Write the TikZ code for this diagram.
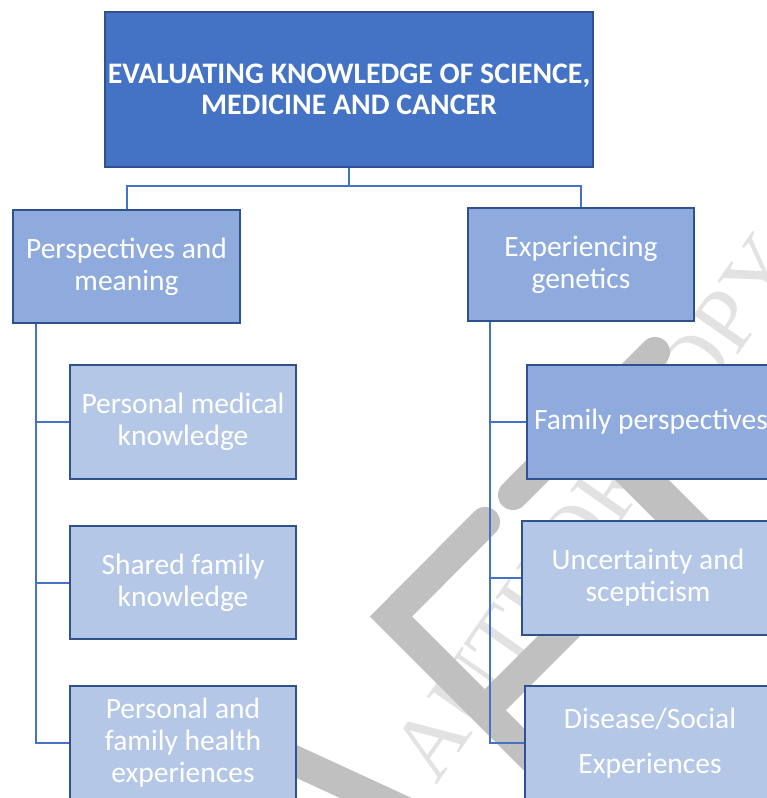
\documentclass[tikz,border=0pt]{standalone}
\usepackage{fontspec}
\setmainfont{Carlito}
\newfontfamily\markfont{Liberation Serif}
\definecolor{topfill}{HTML}{4472C4}
\definecolor{midfill}{HTML}{8FAADC}
\definecolor{lightfill}{HTML}{B4C7E7}
\definecolor{boxedge}{HTML}{2F528F}
\definecolor{linkblue}{HTML}{4472C4}
\definecolor{wmgray}{RGB}{192,192,192}
\definecolor{wmlight}{RGB}{226,226,226}
\begin{document}
\begin{tikzpicture}[x=1pt,y=-1pt,
  box/.style={draw=boxedge, line width=2.4pt, text=white, align=center,
    inner sep=0pt, font=\fontsize{29.5}{32}\selectfont},
  topbox/.style={box, fill=topfill, line width=2pt,
    font=\fontsize{29.8}{31}\selectfont\bfseries},
  midbox/.style={box, fill=midfill},
  leafbox/.style={box, fill=lightfill},
  link/.style={draw=linkblue, line width=2pt},
  wmstroke/.style={draw=wmgray, line width=30pt, line cap=round}]
\useasboundingbox (0,0) rectangle (767,798);
\clip (0,0) rectangle (767,798);

% background mark: light lettering and grey strokes
\node[anchor=base west, rotate=55, inner sep=0pt, text=wmlight,
  font=\markfont\fontsize{90}{90}\selectfont] (mark) at (436.7,785.7) {AUTHOR COPY};
\draw[wmstroke] (485,522) -- (391,616.5) -- (600,825.5);
\draw[wmstroke] (513,495) -- (655,352);
\draw[wmstroke, line width=38pt] (560,398) -- (760,598);
\draw[wmstroke] (640,555) -- (485,710);
\draw[wmstroke] (200,717) -- (480,846);

% root and first level
\node[topbox, minimum width=488pt, minimum height=155pt] (root) at (349,89.5)
  {EVALUATING KNOWLEDGE OF SCIENCE,\\MEDICINE AND CANCER};
\node[midbox, minimum width=227pt, minimum height=113pt] (p1) at (126.5,266.5)
  {Perspectives and\\meaning};
\node[midbox, minimum width=226pt, minimum height=113pt] (e1) at (581,264.5)
  {Experiencing\\genetics};

% left branch
\node[leafbox, minimum width=226pt, minimum height=114pt] (c1) at (183,422)
  {Personal medical\\knowledge};
\node[leafbox, minimum width=226pt, minimum height=113pt] (c2) at (183,582.5)
  {Shared family\\knowledge};
\node[leafbox, minimum width=226pt, minimum height=114pt] (c3) at (183,743)
  {Personal and\\family health\\experiences};

% right branch
\node[midbox, minimum width=248pt, minimum height=114pt] (f1) at (651,422)
  {Family perspectives};
\node[leafbox, minimum width=252pt, minimum height=114pt] (f2) at (648,578)
  {Uncertainty and\\scepticism};
\node[leafbox, minimum width=250pt, minimum height=114pt,
  font=\fontsize{29.5}{45}\selectfont] (f3) at (650,743)
  {Disease/Social\\Experiences};

% connectors
\draw[link] (root.south) -- ++(0,18) -| (p1.north);
\draw[link] (root.south) -- ++(0,18) -| (e1.north);

\coordinate (lt) at ([xshift=24pt]p1.south west);
\draw[link] (lt) |- (c3.west);
\draw[link] (lt |- c1.west) -- (c1.west);
\draw[link] (lt |- c2.west) -- (c2.west);

\coordinate (rt) at ([xshift=23pt]e1.south west);
\draw[link] (rt) |- (f3.west);
\draw[link] (rt |- f1.west) -- (f1.west);
\draw[link] (rt |- f2.west) -- (f2.west);
\end{tikzpicture}
\end{document}
